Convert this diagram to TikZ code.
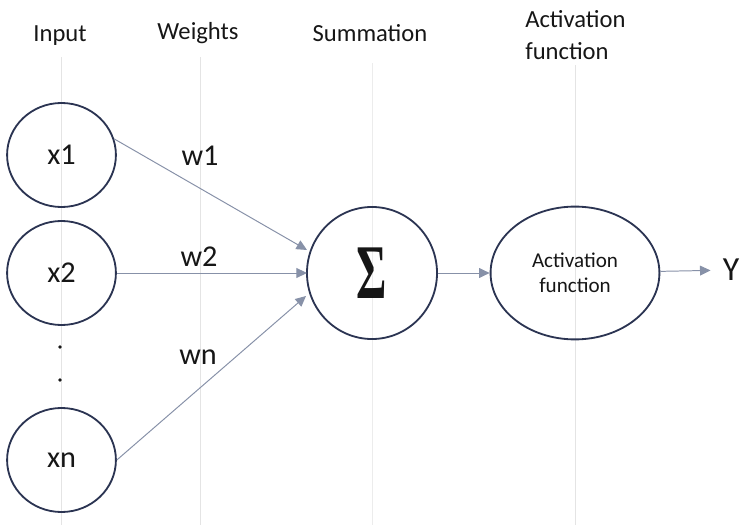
\documentclass[tikz,border=0pt]{standalone}
\usepackage[no-math]{fontspec}
\setmainfont{Carlito}
\newfontfamily\sigmafont{Liberation Serif}
\usepackage{graphicx}
\usetikzlibrary{arrows.meta,calc,positioning,shapes.geometric}
\definecolor{rimnavy}{HTML}{2B3452}
\definecolor{wiregray}{HTML}{8791A8}
\definecolor{guidegray}{HTML}{E4E4E4}
\definecolor{inktext}{HTML}{161616}

\begin{document}
\begin{tikzpicture}[
    x=0.025cm, y=-0.025cm,
    every node/.style={text=inktext},
    head/.style={font=\fontsize{17.5}{22.8}\selectfont, inner sep=0pt, anchor=base},
    neuron/.style={ellipse, draw=rimnavy, line width=1.3pt, minimum width=2.72cm, minimum height=2.6cm, font=\fontsize{21.5}{24}\selectfont},
    weight/.style={font=\fontsize{21.5}{24}\selectfont},
    ellip/.style={circle, fill=inktext, inner sep=0pt, minimum size=2.6pt},
    arr/.style={-{Triangle[length=7.5pt,width=7pt]}, wiregray, line width=0.7pt},
    guide/.style={draw=guidegray, line width=0.7pt}
]
    \useasboundingbox (0,0) rectangle (744,525);

    % column guides
    \draw[guide] (61,57) -- (61,525);
    \draw[guide] (200,57) -- (200,525);
    \draw[guide, draw=guidegray!70] (372,63) -- (372,525);
    \draw[guide] (575,65) -- (575,525);

    % column headings
    \node[head] (hinput) at (60,42) {Input};
    \node[head] (hweights) at (198,40) {Weights};
    \node[head] (hsum) at (370,42) {Summation};
    \node[head, anchor=north west, align=left] (hact) at (525,10) {Activation\\function};

    \node[neuron] (x1) at (61.5,155) {x1};
    \node[neuron] (x2) at (61.5,273) {x2};
    \node[ellip] (dot1) at (60,347) {};
    \node[ellip] (dot2) at (60,380) {};
    \node[neuron] (xn) at (61.5,460) {xn};

    \node[neuron, minimum width=3.25cm, minimum height=3.3cm, font=\sigmafont\bfseries\fontsize{55}{55}\selectfont] (sum) at (372,273) {\scalebox{0.6}[1]{Σ}};
    \node[neuron, minimum width=4.22cm, minimum height=3.32cm, align=center, font=\fontsize{15}{17.8}\selectfont] (act) at (575,273) {Activation\\function};
    \node[font=\fontsize{24}{28}\selectfont, inner sep=8.5pt] (yout) at (731,270) {Y};

    \node[weight] (w1) at (200,156) {w1};
    \node[weight] (w2) at (199,257) {w2};
    \node[weight] (wn) at (198,357) {wn};

    \coordinate (in1) at (307,250);
    \coordinate (in2) at (307,273);
    \coordinate (inn) at (306,296);

    \draw[arr] (x1.17) -- (in1);
    \draw[arr] (x2) -- (in2);
    \draw[arr] (xn.east) -- (inn);
    \draw[arr] (sum) -- (act);
    \draw[arr] (act) -- (yout);
\end{tikzpicture}
\end{document}
